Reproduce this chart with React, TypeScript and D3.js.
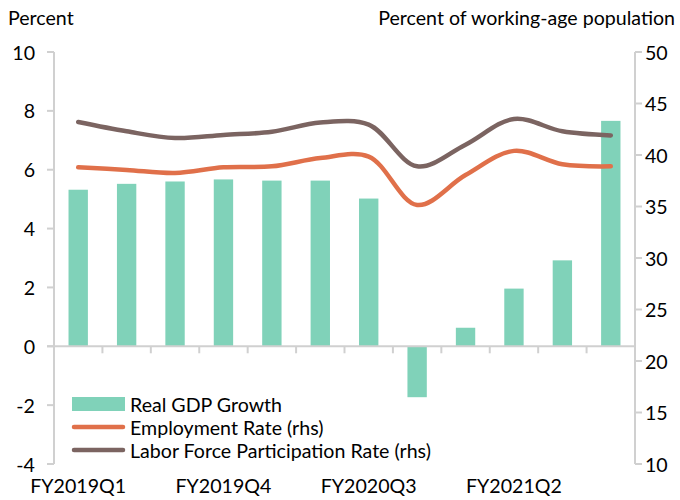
import React from 'react';
import * as d3 from 'd3';

const quarters = [
  'FY2019Q1', 'FY2019Q2', 'FY2019Q3', 'FY2019Q4',
  'FY2020Q1', 'FY2020Q2', 'FY2020Q3', 'FY2020Q4',
  'FY2021Q1', 'FY2021Q2', 'FY2021Q3', 'FY2021Q4',
];
const shownLabels = ['FY2019Q1', 'FY2019Q4', 'FY2020Q3', 'FY2021Q2'];
const gdpGrowth = [5.32, 5.52, 5.6, 5.67, 5.63, 5.63, 5.02, -1.73, 0.63, 1.96, 2.92, 7.66];
const employmentRate = [38.8, 38.55, 38.25, 38.8, 38.9, 39.7, 39.85, 35.15, 38.05, 40.4, 39.1, 38.9];
const participationRate = [43.2, 42.3, 41.65, 41.95, 42.25, 43.15, 42.95, 38.9, 41.0, 43.5, 42.3, 41.9];
const leftTicks = [-4, -2, 0, 2, 4, 6, 8, 10];
const rightTicks = [10, 15, 20, 25, 30, 35, 40, 45, 50];

const App = () => {
  const width = 680;
  const height = 500;
  const margin = { top: 52, right: 45, bottom: 36, left: 54 };
  const teal = '#80d2b9';
  const orange = '#e0704a';
  const brown = '#7b6461';
  const axisGrey = '#d0d0d0';
  const font = 'Lato, Calibri, sans-serif';
  const fs = 19.6;

  const xScale = d3
    .scaleBand()
    .domain(quarters)
    .range([margin.left, width - margin.right])
    .paddingInner(0.6)
    .paddingOuter(0.3);

  const xBounds = d3
    .scaleLinear()
    .domain([0, quarters.length])
    .range([margin.left, width - margin.right]);

  const yLeft = d3
    .scaleLinear()
    .domain([-4, 10])
    .range([height - margin.bottom, margin.top]);

  const yRight = d3
    .scaleLinear()
    .domain([10, 50])
    .range([height - margin.bottom, margin.top]);

  const cx = (i: number) => xScale(quarters[i])! + xScale.bandwidth() / 2;

  const line = d3
    .line<number>()
    .x((d, i) => cx(i))
    .y(d => yRight(d))
    .curve(d3.curveCatmullRom.alpha(0.5));

  const x0 = margin.left;
  const x1 = width - margin.right;
  const zeroY = yLeft(0);

  return (
    <svg width={width} height={height} style={{ position: 'absolute', left: 0, top: 0 }}>
      <rect width={width} height={height} fill="#fff" />
      {/* bars */}
      {gdpGrowth.map((v, i) => (
        <rect
          key={`bar-${i}`}
          x={xScale(quarters[i])}
          y={Math.min(yLeft(v), zeroY)}
          width={xScale.bandwidth()}
          height={Math.abs(yLeft(v) - zeroY)}
          fill={teal}
        />
      ))}
      {/* axes */}
      <line x1={x0} x2={x0} y1={yLeft(10)} y2={yLeft(-4)} stroke={axisGrey} strokeWidth={2} />
      <line x1={x1} x2={x1} y1={yRight(50)} y2={yRight(10)} stroke={axisGrey} strokeWidth={2} />
      <line x1={x0 - 7} x2={x1} y1={zeroY} y2={zeroY} stroke={axisGrey} strokeWidth={2} />
      {d3.range(1, quarters.length).map(i => (
        <line
          key={`xt-${i}`}
          x1={xBounds(i)}
          x2={xBounds(i)}
          y1={zeroY}
          y2={zeroY + 7}
          stroke={axisGrey}
          strokeWidth={2}
        />
      ))}
      {leftTicks.map(t => (
        <g key={`lt-${t}`}>
          <line x1={x0 - 7} x2={x0} y1={yLeft(t)} y2={yLeft(t)} stroke={axisGrey} strokeWidth={2} />
          <text
            x={35}
            y={yLeft(t)}
            textAnchor="end"
            dominantBaseline="central"
            fontFamily={font}
            fontSize={fs}
            fill="#000"
          >
            {t}
          </text>
        </g>
      ))}
      {rightTicks.map(t => (
        <g key={`rt-${t}`}>
          <line x1={x1} x2={x1 + 7} y1={yRight(t)} y2={yRight(t)} stroke={axisGrey} strokeWidth={2} />
          <text
            x={645}
            y={yRight(t)}
            textAnchor="start"
            dominantBaseline="central"
            fontFamily={font}
            fontSize={fs}
            fill="#000"
          >
            {t}
          </text>
        </g>
      ))}
      {/* lines */}
      <path d={line(employmentRate)!} fill="none" stroke={orange} strokeWidth={4.5} strokeLinecap="round" />
      <path d={line(participationRate)!} fill="none" stroke={brown} strokeWidth={4.5} strokeLinecap="round" />
      {/* x labels */}
      {shownLabels.map(q => (
        <text
          key={`xl-${q}`}
          x={xScale(q)! + xScale.bandwidth() / 2}
          y={493}
          textAnchor="middle"
          fontFamily={font}
          fontSize={fs}
          fill="#000"
        >
          {q}
        </text>
      ))}
      {/* titles */}
      <text x={8} y={25} fontFamily={font} fontSize={fs} fill="#000">
        Percent
      </text>
      <text x={675} y={25} textAnchor="end" fontFamily={font} fontSize={fs} fill="#000">
        Percent of working-age population
      </text>
      {/* legend */}
      <g fontFamily={font} fontSize={fs} fill="#000">
        <rect x={72} y={397} width={53} height={14} fill={teal} />
        <text x={130} y={404} dominantBaseline="central">Real GDP Growth</text>
        <line x1={74} x2={123} y1={427} y2={427} stroke={orange} strokeWidth={4.5} strokeLinecap="round" />
        <text x={130} y={427} dominantBaseline="central">Employment Rate (rhs)</text>
        <line x1={74} x2={123} y1={450} y2={450} stroke={brown} strokeWidth={4.5} strokeLinecap="round" />
        <text x={130} y={450} dominantBaseline="central">Labor Force Participation Rate (rhs)</text>
      </g>
    </svg>
  );
};

export default App;
